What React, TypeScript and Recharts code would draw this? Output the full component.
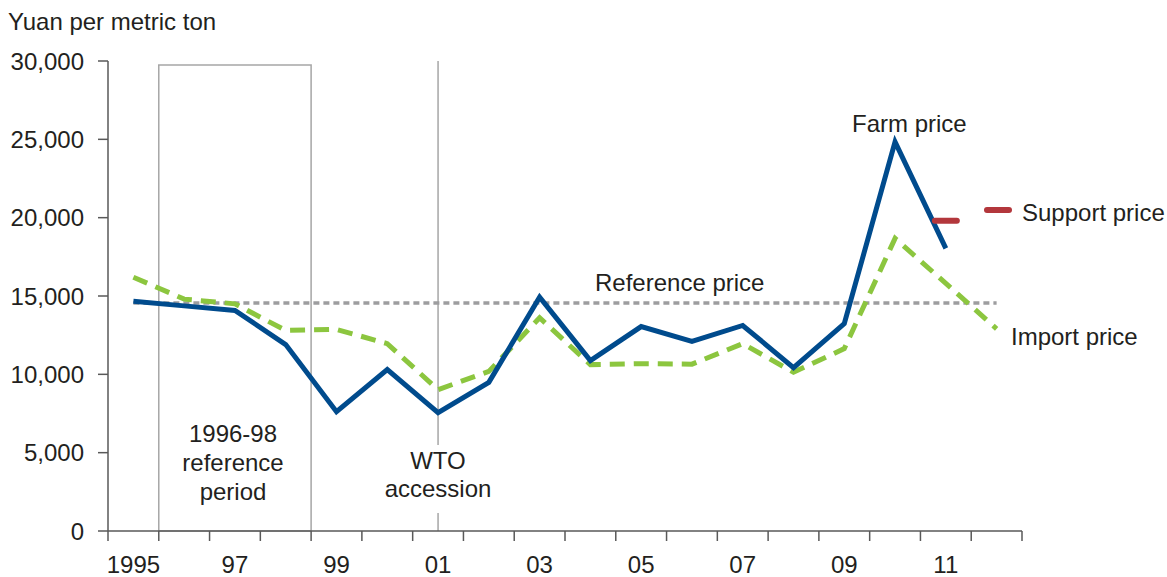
import {
  ComposedChart,
  Line,
  XAxis,
  YAxis,
  ReferenceArea,
  ReferenceLine,
} from 'recharts';

const years = [
  '1995', '1996', '1997', '1998', '1999', '2000', '2001', '2002', '2003',
  '2004', '2005', '2006', '2007', '2008', '2009', '2010', '2011', '2012',
];
const yearLabels = [
  '1995', '', '97', '', '99', '', '01', '', '03',
  '', '05', '', '07', '', '09', '', '11', '',
];
const farmPrice = [
  14670, 14370, 14080, 11900, 7610, 10300, 7550, 9490, 14930,
  10880, 13050, 12100, 13120, 10430, 13240, 24840, 18040, null,
];
const importPrice = [
  16200, 14800, 14500, 12800, 12870, 11960, 9020, 10190, 13610,
  10620, 10680, 10650, 11960, 10130, 11640, 18680, 15800, 12900,
];
const referencePrice = [
  14550, 14550, 14550, 14550, 14550, 14550, 14550, 14550, 14550,
  14550, 14550, 14550, 14550, 14550, 14550, 14550, 14550, 14550,
];
const supportPrice = [
  null, null, null, null, null, null, null, null, null,
  null, null, null, null, null, null, null, 19800, null,
];
const yTicks = [0, 5000, 10000, 15000, 20000, 25000, 30000];

const data = years.map((year, i) => ({
  year,
  label: yearLabels[i],
  farm: farmPrice[i],
  import: importPrice[i],
  reference: referencePrice[i],
  support: supportPrice[i],
}));

const W = 1167;
const H = 577;
const MARGIN = { top: 61, right: 145, bottom: 0, left: 0 };
const Y_AXIS_W = 108;
const X_AXIS_H = 46;
const PLOT_W = W - MARGIN.left - MARGIN.right - Y_AXIS_W;
const BAND = PLOT_W / years.length;

const AXIS = '#595959';
const TEXT = '#231f20';
const FONT = '"Liberation Sans", Arial, sans-serif';
const FS = 24;

const XTick = (props: any) => {
  const { x, y, index } = props;
  const left = x - BAND / 2;
  return (
    <g>
      <line x1={left} y1={y} x2={left} y2={y + 10} stroke={AXIS} strokeWidth={1.5} />
      {index === years.length - 1 && (
        <line x1={x + BAND / 2} y1={y} x2={x + BAND / 2} y2={y + 10} stroke={AXIS} strokeWidth={1.5} />
      )}
      <text x={x} y={y + 42} textAnchor="middle" fill={TEXT} fontSize={FS} fontFamily={FONT}>
        {yearLabels[index]}
      </text>
    </g>
  );
};

const SupportDot = (props: any) => {
  const { cx, cy, index } = props;
  if (cy == null || cx == null) return <g key={index} />;
  return (
    <line
      key={index}
      x1={cx - 11}
      y1={cy}
      x2={cx + 11}
      y2={cy}
      stroke="#b3373c"
      strokeWidth={6}
      strokeLinecap="round"
    />
  );
};

const label = (
  text: string,
  left: number,
  baseline: number,
  extra: React.CSSProperties = {},
) => (
  <div
    style={{
      position: 'absolute',
      left,
      top: baseline - 23,
      lineHeight: '29px',
      fontSize: FS,
      fontFamily: FONT,
      color: TEXT,
      whiteSpace: 'nowrap',
      ...extra,
    }}
  >
    {text}
  </div>
);

export default function App() {
  return (
    <div
      style={{
        position: 'absolute',
        left: 0,
        top: 0,
        width: W,
        height: H,
        background: '#fff',
        overflow: 'hidden',
      }}
    >
      <ComposedChart width={W} height={H} data={data} margin={MARGIN}>
        <XAxis
          dataKey="year"
          scale="band"
          interval={0}
          height={X_AXIS_H}
          tickSize={0}
          tickMargin={0}
          tickLine={false}
          axisLine={{ stroke: AXIS, strokeWidth: 1.5 }}
          tick={<XTick />}
        />
        <YAxis
          width={Y_AXIS_W}
          domain={[0, 30000]}
          ticks={yTicks}
          interval={0}
          tickSize={10}
          tickMargin={14}
          axisLine={{ stroke: AXIS, strokeWidth: 1.5 }}
          tickLine={{ stroke: AXIS, strokeWidth: 1.5 }}
          tick={{ fill: TEXT, fontSize: FS, fontFamily: FONT }}
          tickFormatter={(v: number) => v.toLocaleString('en-US')}
        />
        <ReferenceArea
          x1="1996"
          x2="1998"
          y1={0}
          y2={29750}
          fill="#fff"
          fillOpacity={0}
          stroke="#a6a6a6"
          strokeWidth={1.5}
        />
        <ReferenceLine x="2001" stroke="#a6a6a6" strokeWidth={1.5} />
        <Line
          dataKey="reference"
          stroke="#9d9d9f"
          strokeWidth={3.5}
          strokeDasharray="6 4"
          dot={false}
          activeDot={false}
          isAnimationActive={false}
        />
        <Line
          dataKey="import"
          stroke="#8cc63f"
          strokeWidth={5}
          strokeDasharray="15 9"
          dot={false}
          activeDot={false}
          isAnimationActive={false}
        />
        <Line
          dataKey="farm"
          stroke="#004b8d"
          strokeWidth={5}
          dot={false}
          activeDot={false}
          isAnimationActive={false}
        />
        <Line
          dataKey="support"
          stroke="none"
          dot={SupportDot}
          activeDot={false}
          isAnimationActive={false}
        />
      </ComposedChart>

      {label('Yuan per metric ton', 8, 30)}
      {label('Farm price', 852, 132)}
      {label('Support price', 1022, 221)}
      {label('Import price', 1011, 345)}
      {label('Reference price', 595, 291)}
      <div
        style={{
          position: 'absolute',
          left: 984,
          top: 207,
          width: 28,
          height: 6,
          borderRadius: 3,
          background: '#b3373c',
        }}
      />
      <div
        style={{
          position: 'absolute',
          left: 160,
          width: 146,
          top: 442 - 23,
          lineHeight: '29px',
          fontSize: FS,
          fontFamily: FONT,
          color: TEXT,
          textAlign: 'center',
        }}
      >
        1996-98
        <br />
        reference
        <br />
        period
      </div>
      <div
        style={{
          position: 'absolute',
          left: 380,
          width: 116,
          top: 470 - 23 - 2,
          paddingTop: 2,
          paddingBottom: 10,
          lineHeight: '28px',
          fontSize: FS,
          fontFamily: FONT,
          color: TEXT,
          textAlign: 'center',
          background: '#fff',
        }}
      >
        WTO
        <br />
        accession
      </div>
    </div>
  );
}
